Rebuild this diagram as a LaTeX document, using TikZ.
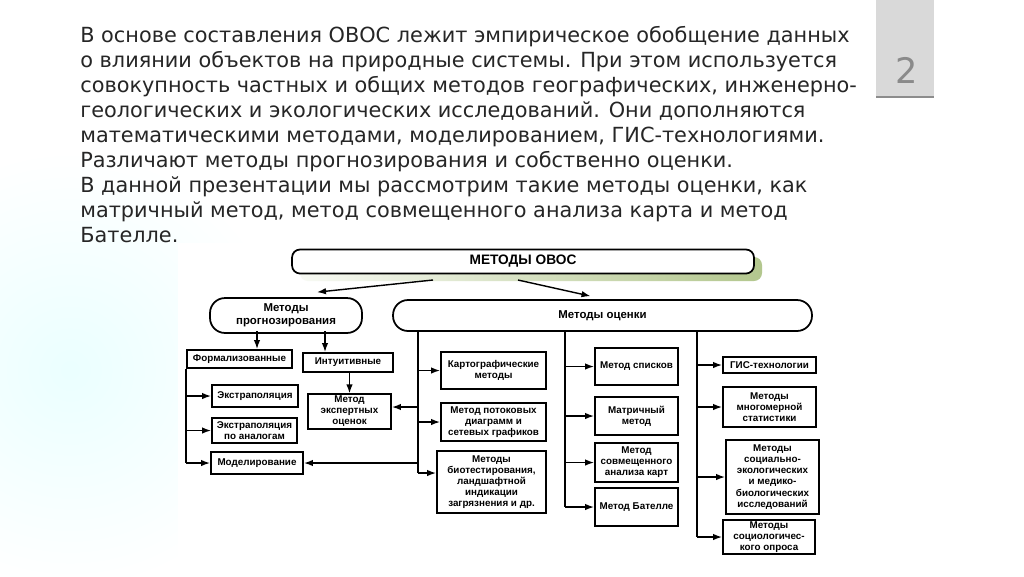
\documentclass[tikz,border=0pt]{standalone}
\usepackage{fontspec}
\setmainfont{DejaVu Sans}
\setsansfont{Liberation Sans}
\usetikzlibrary{arrows.meta}
\definecolor{tabgray}{HTML}{D9D9D9}
\definecolor{tabline}{HTML}{8C8C8C}
\definecolor{numgray}{HTML}{8A8A8A}
\definecolor{textgray}{HTML}{262626}
\definecolor{shadowgreen}{HTML}{B3C78E}
\tikzset{
  box/.style={draw, line width=1.1pt, fill=white, align=center, inner sep=1pt,
    font=\sffamily\bfseries\fontsize{5.6}{6.3}\selectfont},
  oval/.style={draw, line width=1pt, fill=white, align=center, rounded corners=0.3cm,
    minimum height=0.62cm, font=\sffamily\bfseries\fontsize{6.5}{7.4}\selectfont},
  link/.style={line width=0.8pt}
}
\begin{document}
\begin{tikzpicture}[x=0.02cm, y=-0.02cm, >={Latex[length=1.8mm,width=1.3mm]}]
\useasboundingbox (0,0) rectangle (1024,576);
\fill [white] (0,0) rectangle (1024,576);
\shade [inner color=cyan!8!white, outer color=white] (70,370) circle (4.4cm);
\fill [white] (178,243) rectangle (823,566);
\fill [tabgray] (876,0) rectangle (934,97);
\draw [tabline, line width=1.2pt] (876,97) to (934,97);
\node [font=\fontsize{20}{24}\selectfont, text=numgray] (21) at (907,70) {2};
\node [anchor=north west, align=left, inner sep=0, text=textgray,
  font=\fontsize{11.85}{14.23}\selectfont] (20) at (80,25.5) {В основе составления ОВОС лежит эмпирическое обобщение данных\\
о влиянии объектов на природные системы. При этом используется\\
совокупность частных и общих методов географических, инженерно-\\
геологических и экологических исследований. Они дополняются\\
математическими методами, моделированием, ГИС-технологиями.\\
Различают методы прогнозирования и собственно оценки.\\
В данной презентации мы рассмотрим такие методы оценки, как\\
матричный метод, метод совмещенного анализа карта и метод\\
Бателле.};

\shade [rounded corners=0.16cm, left color=shadowgreen!10!white, right color=shadowgreen] (300,257) rectangle (762,281);
\node [draw, line width=1pt, fill=white, rounded corners=0.16cm, minimum width=9.24cm, minimum height=0.46cm,
  font=\sffamily\bfseries\fontsize{7.8}{9}\selectfont] (0) at (523,261.5) {МЕТОДЫ ОВОС};

\node [oval, minimum width=3.04cm] (1) at (286,315.5) {Методы\\прогнозирования};
\node [oval, minimum width=8.38cm] (2) at (602.5,315.5) {Методы оценки};

\node [box, minimum width=2.1cm, minimum height=0.36cm] (3) at (239.5,359) {Формализованные};
\node [box, minimum width=1.8cm, minimum height=0.38cm] (4) at (348,362.5) {Интуитивные};
\node [box, minimum width=1.72cm, minimum height=0.44cm] (5) at (255,396) {Экстраполяция};
\node [box, minimum width=1.7cm, minimum height=0.5cm] (6) at (254.5,430.5) {Экстраполяция\\по аналогам};
\node [box, minimum width=1.84cm, minimum height=0.44cm] (7) at (257,463) {Моделирование};
\node [box, minimum width=1.66cm, minimum height=0.66cm] (8) at (349.5,411.5) {Метод\\экспертных\\оценок};

\node [box, minimum width=2.1cm, minimum height=0.74cm] (9) at (493.5,370.5) {Картографические\\методы};
\node [box, minimum width=2.1cm, minimum height=0.76cm] (10) at (493.5,422) {Метод потоковых\\диаграмм и\\сетевых графиков};
\node [box, minimum width=2.18cm, minimum height=1.24cm] (11) at (491.5,482) {Методы\\биотестирования,\\ландшафтной\\индикации\\загрязнения и др.};

\node [box, minimum width=1.66cm, minimum height=0.74cm] (12) at (636.5,366.5) {Метод списков};
\node [box, minimum width=1.66cm, minimum height=0.76cm] (13) at (636.5,416) {Матричный\\метод};
\node [box, minimum width=1.66cm, minimum height=0.78cm] (14) at (636.5,462.5) {Метод\\совмещенного\\анализа карт};
\node [box, minimum width=1.66cm, minimum height=0.76cm] (15) at (636.5,507) {Метод Бателле};

\node [box, minimum width=1.86cm, minimum height=0.32cm] (16) at (769.5,365) {ГИС-технологии};
\node [box, minimum width=1.86cm, minimum height=0.8cm] (17) at (769.5,407) {Методы\\многомерной\\статистики};
\node [box, minimum width=1.86cm, minimum height=1.48cm] (18) at (772.5,477) {Методы\\социально-\\экологических\\и медико-\\биологических\\исследований};
\node [box, minimum width=1.84cm, minimum height=0.64cm] (19) at (769,537) {Методы\\социологичес-\\кого опроса};

\coordinate (t1) at (433,280);
\coordinate (t2) at (518,280);
\coordinate (b1) at (418,331);
\coordinate (b2) at (565,331);
\coordinate (b3) at (697,331);
\coordinate (e1) at (418,407);
\coordinate (e2) at (418,473);
\coordinate (p1) at (257,331);
\coordinate (p2) at (325,331);

\draw [link, ->] (t1) to ([shift={(31,-5)}]1.north);
\draw [link, ->] (t2) to ([shift={(-12,-3)}]2.north);
\draw [link, ->] (p1) to (p1 |- 3.north);
\draw [link, ->] (p2) to (p2 |- 4.north);
\draw [link, ->] (4.south -| 8.north) to (8.north);

\draw [link] (3.south west) to (3.south west |- 7.west);
\draw [link, ->] (3.south west |- 5.west) to (5.west);
\draw [link, ->] (3.south west |- 6.west) to (6.west);
\draw [link, ->] (3.south west |- 7.west) to (7.west);

\draw [link] (b1) to (e2);
\draw [link, ->] (b1 |- 9.west) to (9.west);
\draw [link, ->] (b1 |- 10.west) to (10.west);
\draw [link, ->] (e2) to (e2 -| 11.west);
\draw [link, ->] (e1) to (e1 -| 8.east);
\draw [link, ->] (b1 |- 7.east) to (7.east);

\draw [link] (b2) to (b2 |- 15.west);
\draw [link, ->] (b2 |- 12.west) to (12.west);
\draw [link, ->] (b2 |- 13.west) to (13.west);
\draw [link, ->] (b2 |- 14.west) to (14.west);
\draw [link, ->] (b2 |- 15.west) to (15.west);

\draw [link] (b3) to (b3 |- 19.west);
\draw [link, ->] (b3 |- 16.west) to (16.west);
\draw [link, ->] (b3 |- 17.west) to (17.west);
\draw [link, ->] (b3 |- 18.west) to (18.west);
\draw [link, ->] (b3 |- 19.west) to (19.west);
\end{tikzpicture}
\end{document}
